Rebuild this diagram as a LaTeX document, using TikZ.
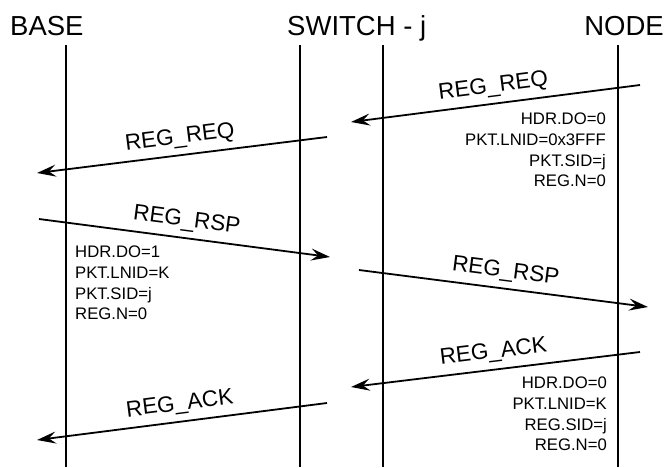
\documentclass[tikz,border=0pt]{standalone}
\usepackage{fontspec}
\setmainfont{Liberation Sans}
\usetikzlibrary{arrows.meta}

\begin{document}
\begin{tikzpicture}[x=1pt, y=-1pt,
>={Stealth[length=19pt, width=12pt, inset=7pt]},
lifeline/.style={line width=1.8pt},
msg/.style={->, line width=1.8pt},
title/.style={inner sep=0pt, font=\fontsize{27.5}{30}\selectfont},
msgname/.style={sloped, above, inner sep=6pt, font=\fontsize{22.5}{24}\selectfont},
fields/.style={inner sep=0pt, font=\fontsize{16.7}{20.7}\selectfont}]

%%%%%%%% FRAME %%%%%%%%%%%%%
\useasboundingbox (0,0) rectangle (667,467);
%%%%%%%%%%%%%%%%%%%%%%%%%%%

% titles
\node[title, anchor=base west] (base) at (10,35) {BASE};
\node[title, anchor=base west] (switch) at (287,35) {SWITCH - j};
\node[title, anchor=base east] (node) at (664,35) {NODE};

% lifelines
\foreach \x/\n in {66/base, 300/swa, 383/swb, 618/node}{
  \coordinate (\n-top) at (\x,45);
  \coordinate (\n-bot) at (\x,467);
  \draw[lifeline] (\n-top) -- (\n-bot);
}

% messages
\foreach \i/\xa/\ya/\xb/\yb/\lbl in {
  1/640/85/351/122/REG\_REQ,
  2/327/137/37/173/REG\_REQ,
  3/39/219/330/257/REG\_RSP,
  4/359/270/648/307/REG\_RSP,
  5/640/352/351/387/REG\_ACK,
  6/327/403/37/440/REG\_ACK}{
  \coordinate (from\i) at (\xa,\ya);
  \coordinate (to\i) at (\xb,\yb);
  \draw[msg] (from\i) -- node[msgname] (lbl\i) {\lbl} (to\i);
}

% packet fields
\node[fields, anchor=north east, align=right] (req) at (606,113)
  {HDR.DO=0\\PKT.LNID=0x3FFF\\PKT.SID=j\\REG.N=0};
\node[fields, anchor=north west, align=left] (rsp) at (75,246)
  {HDR.DO=1\\PKT.LNID=K\\PKT.SID=j\\REG.N=0};
\node[fields, anchor=north east, align=right] (ack) at (607,377)
  {HDR.DO=0\\PKT.LNID=K\\REG.SID=j\\REG.N=0};
\end{tikzpicture}
\end{document}
